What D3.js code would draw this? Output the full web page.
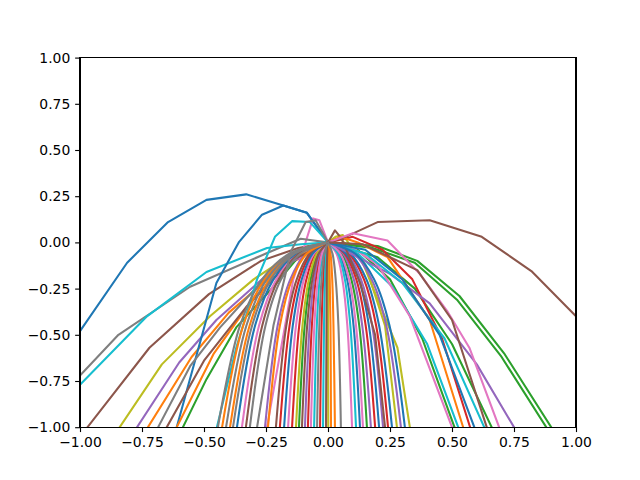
<!DOCTYPE html>
<html><head><meta charset="utf-8">
<script src="https://cdn.jsdelivr.net/npm/d3@7"></script>
<style>body{margin:0;background:#fff}</style></head>
<body><svg id="chart" width="640" height="480"></svg>
<script>
const xTicks = [-1, -0.75, -0.5, -0.25, 0, 0.25, 0.5, 0.75, 1];
const yTicks = [-1, -0.75, -0.5, -0.25, 0, 0.25, 0.5, 0.75, 1];

const blueLines = [
  [[0,0],[-0.085,0.16],[-0.18,0.2],[-0.33,0.26],[-0.49,0.23],[-0.645,0.11],[-0.81,-0.11],[-1.0,-0.48],[-1.05,-0.61]],
  [[0,0],[-0.085,0.16],[-0.18,0.2],[-0.266,0.15],[-0.36,0.0],[-0.45,-0.22],[-0.61,-1.0]],
  [[0,0],[-0.128,-0.06],[-0.220,-0.2],[-0.294,-0.45],[-0.367,-1]],
  [[0,0],[-0.062,-0.06],[-0.106,-0.2],[-0.142,-0.45],[-0.177,-1]],
  [[0,0],[0.045,-0.06],[0.077,-0.2],[0.103,-0.45],[0.129,-1]],
  [[0,0],[0.072,-0.06],[0.124,-0.2],[0.165,-0.45],[0.206,-1]],
  [[0,0],[0.090,-0.06],[0.155,-0.2],[0.206,-0.45],[0.258,-1]],
  [[0,0],[0.109,-0.06],[0.186,-0.2],[0.248,-0.45],[0.31,-1]],
  [[0,0],[0.15,-0.04],[0.3,-0.2],[0.45,-0.5],[0.59,-1]]
];
const orangeLines = [
  [[0,0],[-0.2,-0.15],[-0.4,-0.38],[-0.55,-0.62],[-0.726,-1]],
  [[0,0],[-0.13,-0.08],[-0.3,-0.3],[-0.46,-0.6],[-0.61,-1]],
  [[0,0],[-0.149,-0.06],[-0.256,-0.2],[-0.342,-0.45],[-0.427,-1]],
  [[0,0],[-0.138,-0.06],[-0.237,-0.2],[-0.316,-0.45],[-0.395,-1]],
  [[0,0],[-0.085,-0.06],[-0.145,-0.2],[-0.194,-0.45],[-0.242,-1]],
  [[0,0],[0.004,-0.06],[0.007,-0.2],[0.010,-0.45],[0.012,-1]],
  [[0,0],[0.010,-0.06],[0.017,-0.2],[0.022,-0.45],[0.028,-1]],
  [[0,0],[0.05,0.03],[0.12,0.0],[0.24,-0.08],[0.41,-0.42],[0.545,-1]]
];
const greenLines = [
  [[0,0],[-0.12,-0.08],[-0.22,-0.24],[-0.37,-0.46],[-0.49,-0.74],[-0.585,-1]],
  [[0,0],[-0.041,-0.06],[-0.070,-0.2],[-0.094,-0.45],[-0.117,-1]],
  [[0,0],[0.055,-0.06],[0.094,-0.2],[0.126,-0.45],[0.157,-1]],
  [[0,0],[0.12,-0.04],[0.25,-0.2],[0.38,-0.52],[0.51,-1]],
  [[0,0],[0.2,-0.08],[0.35,-0.25],[0.5,-0.55],[0.66,-1]],
  [[0,0],[0.2,-0.02],[0.36,-0.1],[0.53,-0.29],[0.71,-0.6],[0.9,-1.0]],
  [[0,0],[0.18,-0.03],[0.35,-0.11],[0.52,-0.31],[0.7,-0.62],[0.88,-1.0]]
];
const redLines = [
  [[0,0],[-0.068,-0.06],[-0.116,-0.2],[-0.155,-0.45],[-0.194,-1]],
  [[0,0],[-0.051,-0.06],[-0.087,-0.2],[-0.116,-0.45],[-0.145,-1]],
  [[0,0],[-0.028,-0.06],[-0.049,-0.2],[-0.065,-0.45],[-0.081,-1]],
  [[0,0],[-0.011,-0.06],[-0.019,-0.2],[-0.026,-0.45],[-0.032,-1]],
  [[0,0],[0.067,-0.06],[0.114,-0.2],[0.152,-0.45],[0.19,-1]],
  [[0,0],[0.085,-0.06],[0.145,-0.2],[0.194,-0.45],[0.242,-1]],
  [[0,0],[0.1,0.03],[0.22,-0.04],[0.34,-0.2],[0.46,-0.52],[0.573,-1]]
];
const purpleLines = [
  [[0,0],[-0.25,-0.18],[-0.45,-0.42],[-0.6,-0.65],[-0.77,-1]],
  [[0,0],[-0.089,-0.06],[-0.152,-0.2],[-0.203,-0.45],[-0.254,-1]],
  [[0,0],[-0.033,-0.06],[-0.056,-0.2],[-0.074,-0.45],[-0.093,-1]],
  [[0,0],[0.061,-0.06],[0.104,-0.2],[0.138,-0.45],[0.173,-1]],
  [[0,0],[0.078,-0.06],[0.133,-0.2],[0.178,-0.45],[0.222,-1]],
  [[0,0],[0.103,-0.06],[0.176,-0.2],[0.235,-0.45],[0.294,-1]],
  [[0,0],[0.12,-0.08],[0.25,-0.17],[0.41,-0.33],[0.6,-0.66],[0.75,-1.0]]
];
const brownLines = [
  [[0,0],[-0.12,-0.03],[-0.27,-0.1],[-0.48,-0.28],[-0.72,-0.57],[-0.97,-1]],
  [[0,0],[-0.15,-0.1],[-0.33,-0.35],[-0.5,-0.64],[-0.65,-1]],
  [[0,0],[-0.116,-0.06],[-0.199,-0.2],[-0.265,-0.45],[-0.331,-1]],
  [[0,0],[-0.074,-0.06],[-0.126,-0.2],[-0.168,-0.45],[-0.21,-1]],
  [[0,0],[-0.037,-0.06],[-0.063,-0.2],[-0.084,-0.45],[-0.105,-1]],
  [[0,0],[-0.003,-0.06],[-0.005,-0.2],[-0.006,-0.45],[-0.008,-1]],
  [[0,0],[0.028,0.065],[0.055,0.02],[0.13,-0.22],[0.19,-0.5],[0.23,-1]],
  [[0,0],[0.08,0.035],[0.2,0.11],[0.41,0.12],[0.62,0.03],[0.82,-0.155],[1.0,-0.4],[1.1,-0.55]],
  [[0,0],[0.14,-0.01],[0.36,-0.15],[0.5,-0.42],[0.64,-1]]
];
const pinkLines = [
  [[0,0],[-0.035,0.12],[-0.06,0.13],[-0.1,-0.04],[-0.14,-0.2],[-0.246,-1]],
  [[0,0],[-0.121,-0.06],[-0.208,-0.2],[-0.278,-0.45],[-0.347,-1]],
  [[0,0],[-0.056,-0.06],[-0.097,-0.2],[-0.129,-0.45],[-0.161,-1]],
  [[0,0],[-0.024,-0.06],[-0.041,-0.2],[-0.055,-0.45],[-0.069,-1]],
  [[0,0],[0.034,-0.06],[0.058,-0.2],[0.078,-0.45],[0.097,-1]],
  [[0,0],[0.049,-0.06],[0.085,-0.2],[0.113,-0.45],[0.141,-1]],
  [[0,0],[0.1,-0.03],[0.2,-0.12],[0.33,-0.4],[0.5,-1.0]],
  [[0,0],[0.1,0.05],[0.24,0.01],[0.37,-0.17],[0.48,-0.37],[0.57,-0.57],[0.69,-1.0]]
];
const grayLines = [
  [[0,0],[-0.11,0.02],[-0.25,-0.06],[-0.556,-0.24],[-0.845,-0.5],[-1.0,-0.72],[-1.05,-0.78]],
  [[0,0],[-0.17,-0.08],[-0.3,-0.26],[-0.435,-0.46],[-0.556,-0.67],[-0.685,-1]],
  [[0,0],[-0.05,0.12],[-0.09,0.11],[-0.15,-0.05],[-0.22,-0.45],[-0.286,-1]],
  [[0,0],[-0.155,-0.06],[-0.266,-0.2],[-0.355,-0.45],[-0.444,-1]],
  [[0,0],[-0.144,-0.06],[-0.247,-0.2],[-0.329,-0.45],[-0.411,-1]],
  [[0,0],[-0.134,-0.06],[-0.230,-0.2],[-0.306,-0.45],[-0.383,-1]],
  [[0,0],[-0.110,-0.06],[-0.189,-0.2],[-0.252,-0.45],[-0.315,-1]],
  [[0,0],[-0.015,-0.06],[-0.026,-0.2],[-0.035,-0.45],[-0.044,-1]],
  [[0,0],[0.018,-0.06],[0.031,-0.2],[0.042,-0.45],[0.052,-1]]
];
const oliveLines = [
  [[0,0],[-0.13,-0.05],[-0.3,-0.2],[-0.476,-0.4],[-0.67,-0.66],[-0.84,-1]],
  [[0,0],[-0.045,-0.06],[-0.077,-0.2],[-0.103,-0.45],[-0.129,-1]],
  [[0,0],[0.0,-0.5],[0.001,-1]],
  [[0,0],[0.03,0.03],[0.06,0.04],[0.14,-0.11],[0.28,-0.57],[0.33,-1.0]],
  [[0,0],[0.05,0.02],[0.15,-0.12],[0.23,-0.45],[0.278,-1]]
];
const cyanLines = [
  [[0,0],[-0.11,-0.01],[-0.246,-0.03],[-0.49,-0.16],[-0.73,-0.4],[-1.0,-0.77],[-1.05,-0.84]],
  [[0,0],[-0.073,0.11],[-0.145,0.115],[-0.214,0.03],[-0.286,-0.2],[-0.37,-0.57],[-0.448,-1]],
  [[0,0],[-0.020,-0.06],[-0.034,-0.2],[-0.045,-0.45],[-0.056,-1]],
  [[0,0],[-0.007,-0.06],[-0.012,-0.2],[-0.016,-0.45],[-0.02,-1]],
  [[0,0],[0.040,-0.06],[0.068,-0.2],[0.090,-0.45],[0.113,-1]],
  [[0,0],[0.12,-0.06],[0.26,-0.24],[0.4,-0.55],[0.525,-1]],
  [[0,0],[0.15,-0.06],[0.3,-0.22],[0.47,-0.52],[0.63,-1]]
];

const groups = [blueLines, orangeLines, greenLines, redLines, purpleLines,
                brownLines, pinkLines, grayLines, oliveLines, cyanLines];

const svg = d3.select("#chart");
const L = 80, R = 576, T = 57.6, B = 427.2;
const x = d3.scaleLinear().domain([-1, 1]).range([L, R]);
const y = d3.scaleLinear().domain([-1, 1]).range([B, T]);
const color = d3.scaleOrdinal().domain(d3.range(10)).range(d3.schemeCategory10);

svg.append("rect").attr("width", 640).attr("height", 480).attr("fill", "#fff");
svg.append("defs").append("clipPath").attr("id", "clip")
  .append("rect").attr("x", L).attr("y", T).attr("width", R - L).attr("height", B - T);

const order = [];
const maxLen = d3.max(groups, g => g.length);
for (let i = 0; i < maxLen; i++) {
  groups.forEach((g, gi) => { if (g[i]) order.push({ gi, pts: g[i] }); });
}

const lineStraight = d3.line().x(d => x(d[0])).y(d => y(d[1]));
const lineSmooth = d3.line().x(d => x(d[0])).y(d => y(d[1])).curve(d3.curveCatmullRom.alpha(0.5));
const isSteep = pts => d3.max(pts, p => p[1]) <= 0 && Math.abs(pts[pts.length - 1][0]) < 0.46;

svg.append("g").attr("clip-path", "url(#clip)")
  .selectAll("path").data(order).join("path")
  .attr("d", d => (isSteep(d.pts) ? lineSmooth : lineStraight)(d.pts))
  .attr("fill", "none")
  .attr("stroke", d => color(d.gi))
  .attr("stroke-width", 2.08)
  .attr("stroke-linejoin", "round")
  .attr("stroke-linecap", "square");

const fmt = d3.format(".2f");
const xAxis = svg.append("g").attr("transform", `translate(0,${B})`)
  .call(d3.axisBottom(x).tickValues(xTicks).tickFormat(fmt).tickSize(4.86).tickPadding(4.86).tickSizeOuter(0));
const yAxis = svg.append("g").attr("transform", `translate(${L},0)`)
  .call(d3.axisLeft(y).tickValues(yTicks).tickFormat(fmt).tickSize(4.86).tickPadding(4.86).tickSizeOuter(0));
[xAxis, yAxis].forEach(a => {
  a.select(".domain").remove();
  a.selectAll("line").attr("stroke", "#000").attr("stroke-width", 1.11);
  a.selectAll("text").attr("fill", "#000")
    .style("font-family", "'DejaVu Sans', sans-serif").style("font-size", "13.9px");
});

svg.append("rect").attr("x", L).attr("y", T).attr("width", R - L).attr("height", B - T)
  .attr("fill", "none").attr("stroke", "#000").attr("stroke-width", 1.11)
  .attr("shape-rendering", "crispEdges");
</script>
</body></html>
